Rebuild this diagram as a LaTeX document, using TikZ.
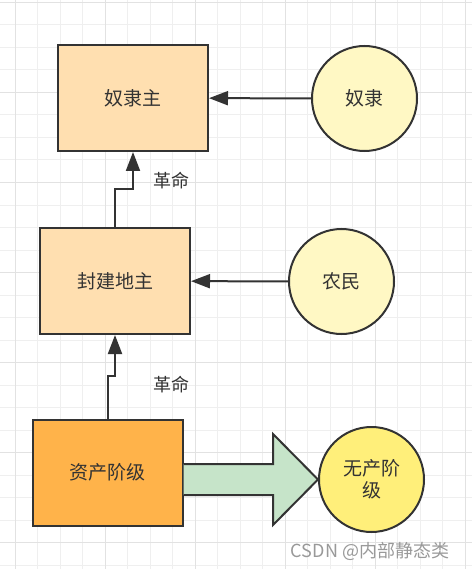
\documentclass[tikz,border=0pt]{standalone}
\usepackage{fontspec}
\newfontfamily\cjk{Noto Sans CJK SC}
\usetikzlibrary{arrows.meta,calc}

\definecolor{ink}{HTML}{333333}
\definecolor{peach}{HTML}{FFDFB0}
\definecolor{cream}{HTML}{FFF8C4}
\definecolor{amber}{HTML}{FFB34A}
\definecolor{lemon}{HTML}{FFEF7A}
\definecolor{mint}{HTML}{C6E4C9}
\definecolor{gridminor}{HTML}{EFEFEF}
\definecolor{gridmajor}{HTML}{E2E2E2}

\begin{document}
\begin{tikzpicture}[x=1pt,y=-1pt,line width=2pt,
  class/.style={draw=ink,minimum width=150pt,minimum height=106pt,text=ink,
    font=\cjk\fontsize{19}{22}\selectfont},
  folk/.style={circle,draw=ink,fill=cream,minimum size=105pt,inner sep=0pt,
    text=ink,font=\cjk\fontsize{19}{22}\selectfont,align=center},
  tag/.style={text=ink,font=\cjk\fontsize{18}{20}\selectfont},
  >={Triangle[length=19pt,width=14pt]}]
  \useasboundingbox (0,0) rectangle (472,569);
  \fill[white] (0,0) rectangle (472,569);
  % grid
  \foreach \k in {0,...,20}
    \draw[gridminor,line width=1pt] (15+22.5*\k,0) -- (15+22.5*\k,569);
  \foreach \k in {0,...,25}
    \draw[gridminor,line width=1pt] (0,2.5+22.5*\k) -- (472,2.5+22.5*\k);
  \foreach \k in {0,...,5}
    \draw[gridmajor,line width=1pt] (15+90*\k,0) -- (15+90*\k,569);
  \foreach \k in {0,...,6}
    \draw[gridmajor,line width=1pt] (0,2.5+90*\k) -- (472,2.5+90*\k);

  \node[class,fill=peach] (master) at (133,98) {奴隶主};
  \node[class,fill=peach] (lord) at (115,281) {封建地主};
  \node[class,fill=amber] (bourg) at (107.5,472.5) {资产阶级};
  \node[folk] (slave) at (364.5,98.5) {奴隶};
  \node[folk] (peasant) at (341.5,281.5) {农民};
  \node[folk,fill=lemon] (prolet) at (371.5,479.5) {无产阶\\级};

  \draw[ink,->] (slave) -- (master);
  \draw[ink,->] (peasant) -- (lord);
  \draw[ink,->] (lord.north) -- ++(0,-38) -| (master.south);
  \draw[ink,->] (bourg.north) -- ++(0,-43) -| (lord.south);
  \node[tag] (rev1) at (171,181) {革命};
  \node[tag] (rev2) at (171,385) {革命};

  % big arrow
  \coordinate (tip) at (prolet.west);
  \coordinate (tail) at (bourg.east |- prolet.west);
  \filldraw[draw=ink,fill=mint,line join=miter]
    ($(tail)+(0,-15.5)$) -- ($(tip)+(-45,-15.5)$) -- ($(tip)+(-45,-45.5)$)
    -- (tip) -- ($(tip)+(-45,45.5)$) -- ($(tip)+(-45,15.5)$)
    -- ($(tail)+(0,15.5)$);

  \node[text=black!40,font=\cjk\fontsize{18}{20}\selectfont] (mark) at (370,551) {CSDN @内部静态类};
\end{tikzpicture}
\end{document}
